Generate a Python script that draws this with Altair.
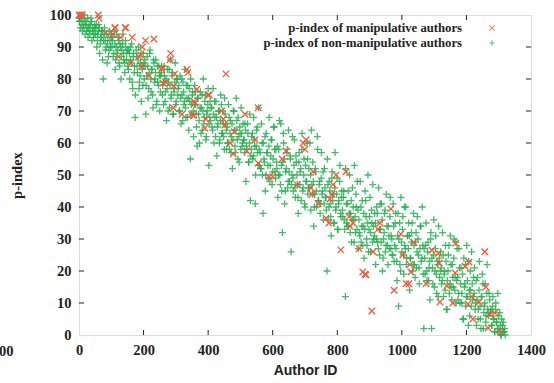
import altair as alt
import pandas as pd

# ---- data ----
# non-manipulative authors, p-index for author IDs 0,3,6,...,1320
green_a_y = [
    99, 98, 100, 97, 99, 96, 98, 97, 95, 99, 96, 94, 97, 98, 95, 93, 96,
    94, 97, 92, 95, 96, 91, 93, 95, 80, 94, 92, 90, 85, 93, 89, 92, 94,
    90, 93, 88, 91, 86, 94, 89, 92, 84, 90, 87, 91, 88, 85, 92, 86, 89,
    83, 88, 90, 85, 79, 87, 82, 68, 89, 84, 86, 77, 81, 88, 84, 78, 85,
    86, 69, 81, 84, 77, 88, 80, 83, 75, 86, 79, 82, 72, 84, 78, 81, 76,
    82, 75, 79, 84, 73, 80, 77, 70, 83, 78, 74, 81, 69, 76, 79, 72, 80,
    75, 78, 70, 74, 80, 67, 76, 73, 71, 78, 68, 74, 77, 55, 72, 75, 70,
    72, 76, 69, 59, 74, 67, 71, 63, 75, 70, 66, 73, 61, 69, 72, 53, 68,
    67, 71, 64, 69, 73, 62, 68, 65, 70, 60, 67, 72, 63, 66, 58, 69, 64,
    65, 60, 68, 63, 57, 66, 61, 70, 59, 64, 67, 55, 62, 65, 58, 63, 60,
    61, 57, 64, 59, 66, 54, 60, 42, 58, 63, 56, 61, 41, 59, 65, 53, 58,
    57, 52, 60, 38, 55, 62, 50, 57, 53, 59, 48, 56, 61, 51, 65, 58, 49,
    54, 59, 50, 67, 47, 53, 32, 63, 55, 45, 52, 58, 48, 51, 56, 26, 50,
    49, 53, 46, 56, 50, 43, 54, 47, 52, 58, 45, 50, 41, 53, 48, 55, 46,
    46, 50, 64, 44, 48, 40, 52, 45, 62, 42, 47, 38, 49, 44, 51, 41, 46,
    43, 20, 47, 40, 45, 37, 49, 42, 35, 46, 39, 44, 33, 41, 48, 38, 43,
    39, 43, 36, 12, 41, 34, 45, 38, 32, 42, 36, 40, 29, 37, 44, 33, 39,
    36, 31, 40, 34, 28, 38, 33, 42, 30, 35, 26, 37, 32, 39, 29, 34, 31,
    35, 30, 38, 27, 33, 41, 29, 36, 24, 32, 39, 28, 34, 22, 31, 37, 27,
    30, 25, 34, 28, 38, 23, 31, 9, 35, 20, 29, 33, 25, 40, 27, 22, 31,
    27, 31, 24, 29, 35, 22, 28, 18, 32, 26, 30, 21, 27, 34, 24, 28, 2,
    24, 28, 20, 26, 17, 23, 30, 2, 21, 25, 15, 27, 19, 23, 12, 24, 20,
    21, 17, 25, 19, 14, 23, 8, 20, 28, 16, 22, 11, 18, 24, 14, 29, 17,
    18, 13, 21, 16, 10, 19, 5, 15, 22, 12, 17, 3, 14, 20, 9, 16, 12,
    13, 8, 17, 11, 5, 14, 9, 2, 12, 16, 7, 10, 4, 13, 8, 6, 11,
    7, 3, 9, 5, 1, 8, 4, 2, 6, 1, 3, 0, 2, 4, 1, 0,
]
green_a_x = list(range(0, 3 * len(green_a_y), 3))

# non-manipulative authors, p-index for author IDs 1,4,7,...,1318
green_b_y = [
    98, 96, 99, 95, 97, 100, 94, 98, 96, 93, 97, 95, 99, 92, 96, 94, 97,
    96, 90, 94, 97, 88, 93, 95, 86, 92, 96, 89, 94, 91, 87, 95, 90, 93,
    92, 87, 95, 83, 90, 88, 93, 85, 91, 80, 89, 94, 86, 82, 90, 88, 84,
    89, 80, 86, 91, 77, 88, 84, 75, 87, 82, 90, 79, 85, 73, 83, 88, 80,
    84, 78, 87, 74, 82, 89, 76, 83, 71, 85, 80, 86, 73, 79, 84, 70, 81,
    84, 78, 72, 81, 76, 67, 83, 79, 71, 86, 75, 82, 69, 77, 85, 73, 80,
    77, 70, 81, 66, 75, 79, 72, 83, 68, 74, 78, 64, 73, 80, 69, 76, 62,
    78, 72, 65, 74, 69, 60, 76, 71, 64, 80, 68, 75, 62, 70, 77, 66, 73,
    71, 65, 77, 60, 68, 73, 56, 66, 70, 61, 75, 63, 70, 62, 74, 66, 58,
    60, 72, 58, 67, 62, 52, 70, 64, 57, 74, 61, 68, 54, 63, 71, 59, 66,
    61, 66, 48, 58, 63, 54, 69, 56, 62, 55, 68, 59, 50, 64, 57, 71, 53,
    52, 66, 50, 60, 54, 45, 63, 57, 49, 68, 53, 61, 47, 55, 65, 51, 58,
    52, 43, 58, 50, 66, 45, 54, 60, 41, 51, 57, 46, 64, 48, 55, 47, 62,
    45, 61, 43, 54, 47, 38, 57, 51, 42, 63, 46, 55, 40, 48, 60, 44, 52,
    60, 39, 47, 54, 34, 44, 51, 40, 58, 42, 48, 41, 57, 45, 36, 52, 43,
    39, 55, 36, 48, 41, 31, 51, 44, 35, 57, 40, 49, 33, 42, 53, 37, 45,
    37, 45, 33, 52, 35, 41, 34, 50, 38, 29, 46, 36, 53, 32, 40, 48, 27,
    32, 48, 29, 42, 34, 24, 45, 37, 28, 50, 33, 43, 26, 35, 47, 30, 38,
    22, 40, 29, 46, 25, 33, 41, 20, 30, 38, 26, 44, 28, 34, 27, 43, 31,
    25, 41, 23, 35, 27, 17, 38, 30, 22, 43, 26, 37, 19, 28, 40, 24, 31,
    35, 14, 24, 32, 20, 38, 22, 29, 21, 37, 25, 16, 34, 23, 40, 19, 27,
    19, 35, 17, 29, 21, 11, 32, 24, 16, 36, 20, 31, 13, 22, 34, 18, 26,
    16, 32, 12, 20, 28, 8, 17, 25, 13, 31, 15, 22, 15, 30, 18, 10, 27,
    11, 27, 10, 21, 13, 5, 24, 16, 9, 28, 12, 23, 6, 14, 26, 11, 18,
    21, 10, 3, 18, 8, 23, 5, 12, 19, 2, 9, 16, 6, 22, 7, 13, 7,
    8, 3, 12, 5, 1, 10, 4, 13, 2, 7, 0, 5, 3, 1, 2,
]
green_b_x = list(range(1, 1 + 3 * len(green_b_y), 3))

# manipulative authors
red_x = [0, 5, 10, 60, 62, 83, 105, 111, 112, 122, 129, 143, 145, 160, 165, 186,
         191, 194, 196, 206, 217, 232, 256, 257, 260, 269, 282, 284, 292, 294, 297,
         319, 334, 337, 349, 355, 356, 359, 365, 390, 393, 400, 403, 442, 447, 452,
         455, 468, 478, 481, 514, 520, 545, 555, 555, 589, 600, 629, 641, 675, 694,
         700, 703, 718, 722, 725, 741, 765, 774, 777, 784, 787, 796, 811, 827, 836,
         839, 849, 867, 879, 886, 889, 907, 911, 926, 932, 966, 976, 997, 1003,
         1013, 1022, 1025, 1028, 1037, 1075, 1093, 1113, 1116, 1118, 1140, 1158,
         1165, 1167, 1196, 1205, 1208, 1217, 1220, 1239, 1257, 1260, 1267, 1273,
         1288, 1304]
red_y = [100, 100, 100, 100, 99, 94.5, 94, 96, 96, 87, 93, 96, 96, 85, 93, 87,
         87.5, 84, 90, 92, 81, 92.5, 83, 83.4, 78.7, 79, 86, 88, 71, 77.8, 81.6,
         69, 83, 82, 69, 68.5, 73, 72.5, 76.8, 64.7, 67.5, 75, 75, 70, 67.5, 65.6,
         81.6, 60, 56.6, 63.5, 69, 57.5, 61, 53.7, 71, 49.5, 49.5, 55, 57.5, 47,
         60, 58, 61, 46, 44, 51, 41, 36.5, 35, 42.5, 44, 47, 50, 26.6, 51, 37,
         34, 35, 27, 19.7, 19, 18.8, 7.5, 26, 33, 35, 39.4, 14, 31.6, 25,
         16, 16, 22, 19.7, 29, 16, 26.5, 25.5, 22.5, 10.3, 15.3, 10,
         19.4, 28.7, 21.5, 9.7, 22.8, 12, 5, 10.3, 26, 15, 2.2, 6.5,
         6.9, 1.3]

legend_labels = ["p-index of manipulative authors", "p-index of non-manipulative authors"]
x_ticks = [0, 200, 400, 600, 800, 1000, 1200, 1400]
y_ticks = [0, 10, 20, 30, 40, 50, 60, 70, 80, 90, 100]

# ---- chart ----
W, H = 452, 320
GREEN = "#22b14c"
RED = "#f15a3b"
INK = "#222222"
PLUS = "M-1,0L1,0M0,-1L0,1"
XMARK = "M-1,-1L1,1M1,-1L-1,1"
SERIF = "Liberation Serif"

green_df = pd.DataFrame({"id": green_a_x + green_b_x, "p": green_a_y + green_b_y})
red_df = pd.DataFrame({"id": red_x, "p": red_y})

xs = alt.Scale(domain=[0, 1400], nice=False, zero=False)
ys = alt.Scale(domain=[0, 100], nice=False, zero=False)

x_axis = alt.Axis(values=x_ticks, format="d", title="Author ID", grid=False, ticks=False,
                  domain=False, labelFont=SERIF, labelFontWeight="bold", labelFontSize=14.5,
                  labelColor=INK, labelPadding=8, labelOverlap=False, titleFont="Liberation Sans",
                  titleFontWeight="bold", titleFontSize=14, titleColor=INK,
                  titlePadding=7, labelFlush=False)
y_axis = alt.Axis(values=y_ticks, format="d", title="p-index", grid=False, ticks=False,
                  domain=False, labelFont=SERIF, labelFontWeight="bold", labelFontSize=14.5,
                  labelColor=INK, labelPadding=8, labelOverlap=False, titleFont=SERIF,
                  titleFontWeight="bold", titleFontSize=14.5, titleColor=INK,
                  titlePadding=25, labelFlush=False)

X = dict(scale=xs, axis=x_axis)
Y = dict(scale=ys, axis=y_axis)

green_pts = alt.Chart(green_df).mark_point(
    shape=PLUS, size=49, filled=False, stroke=GREEN, strokeWidth=1.3, opacity=0.85
).encode(x=alt.X("id:Q", title="Author ID", **X), y=alt.Y("p:Q", title="p-index", **Y))

red_pts = alt.Chart(red_df).mark_point(
    shape=XMARK, size=42, filled=False, stroke=RED, strokeWidth=1.3, opacity=1
).encode(x=alt.X("id:Q", title="Author ID", **X), y=alt.Y("p:Q", title="p-index", **Y))

xt_df = pd.DataFrame({"v": x_ticks[1:-1]})
yt_df = pd.DataFrame({"v": y_ticks[1:-1]})
TK = 5
bottom_ticks = alt.Chart(xt_df).mark_rule(color=INK, strokeWidth=1).encode(
    x=alt.X("v:Q", title="Author ID", **X), y=alt.value(H), y2=alt.value(H - TK))
top_ticks = alt.Chart(xt_df).mark_rule(color=INK, strokeWidth=1).encode(
    x=alt.X("v:Q", title="Author ID", **X), y=alt.value(0), y2=alt.value(TK))
left_ticks = alt.Chart(yt_df).mark_rule(color=INK, strokeWidth=1).encode(
    y=alt.Y("v:Q", title="p-index", **Y), x=alt.value(0), x2=alt.value(TK))
right_ticks = alt.Chart(yt_df).mark_rule(color=INK, strokeWidth=1).encode(
    y=alt.Y("v:Q", title="p-index", **Y), x=alt.value(W), x2=alt.value(W - TK))

def leg_text(label, ypix):
    return alt.Chart(pd.DataFrame({"label": [label]})).mark_text(
        align="right", baseline="middle", font=SERIF, fontWeight="bold",
        fontSize=12.7, color=INK
    ).encode(x=alt.value(383), y=alt.value(ypix), text="label:N")

leg_red = alt.Chart(pd.DataFrame({"k": [0]})).mark_point(
    shape=XMARK, size=28, filled=False, stroke=RED, strokeWidth=1.2
).encode(x=alt.value(413), y=alt.value(13))
leg_green = alt.Chart(pd.DataFrame({"k": [1]})).mark_point(
    shape=PLUS, size=28, filled=False, stroke=GREEN, strokeWidth=1.2
).encode(x=alt.value(413), y=alt.value(28))

stray = alt.Chart(pd.DataFrame({"t": ["00"]})).mark_text(
    align="left", baseline="middle", font=SERIF, fontWeight="bold", fontSize=14.5, color=INK
).encode(x=alt.value(-80), y=alt.value(H + 17), text="t:N")

chart = alt.layer(
    green_pts, red_pts, bottom_ticks, top_ticks, left_ticks, right_ticks,
    leg_text(legend_labels[0], 13), leg_text(legend_labels[1], 28),
    leg_red, leg_green, stray
).properties(
    width=W, height=H,
    autosize=alt.AutoSizeParams(type="none"),
    padding={"left": 79, "top": 15, "right": 23, "bottom": 48},
).configure_view(stroke=INK, strokeWidth=1.5).configure(background="white")

chart.save("out.html", embed_options={"renderer": "svg", "actions": False})
